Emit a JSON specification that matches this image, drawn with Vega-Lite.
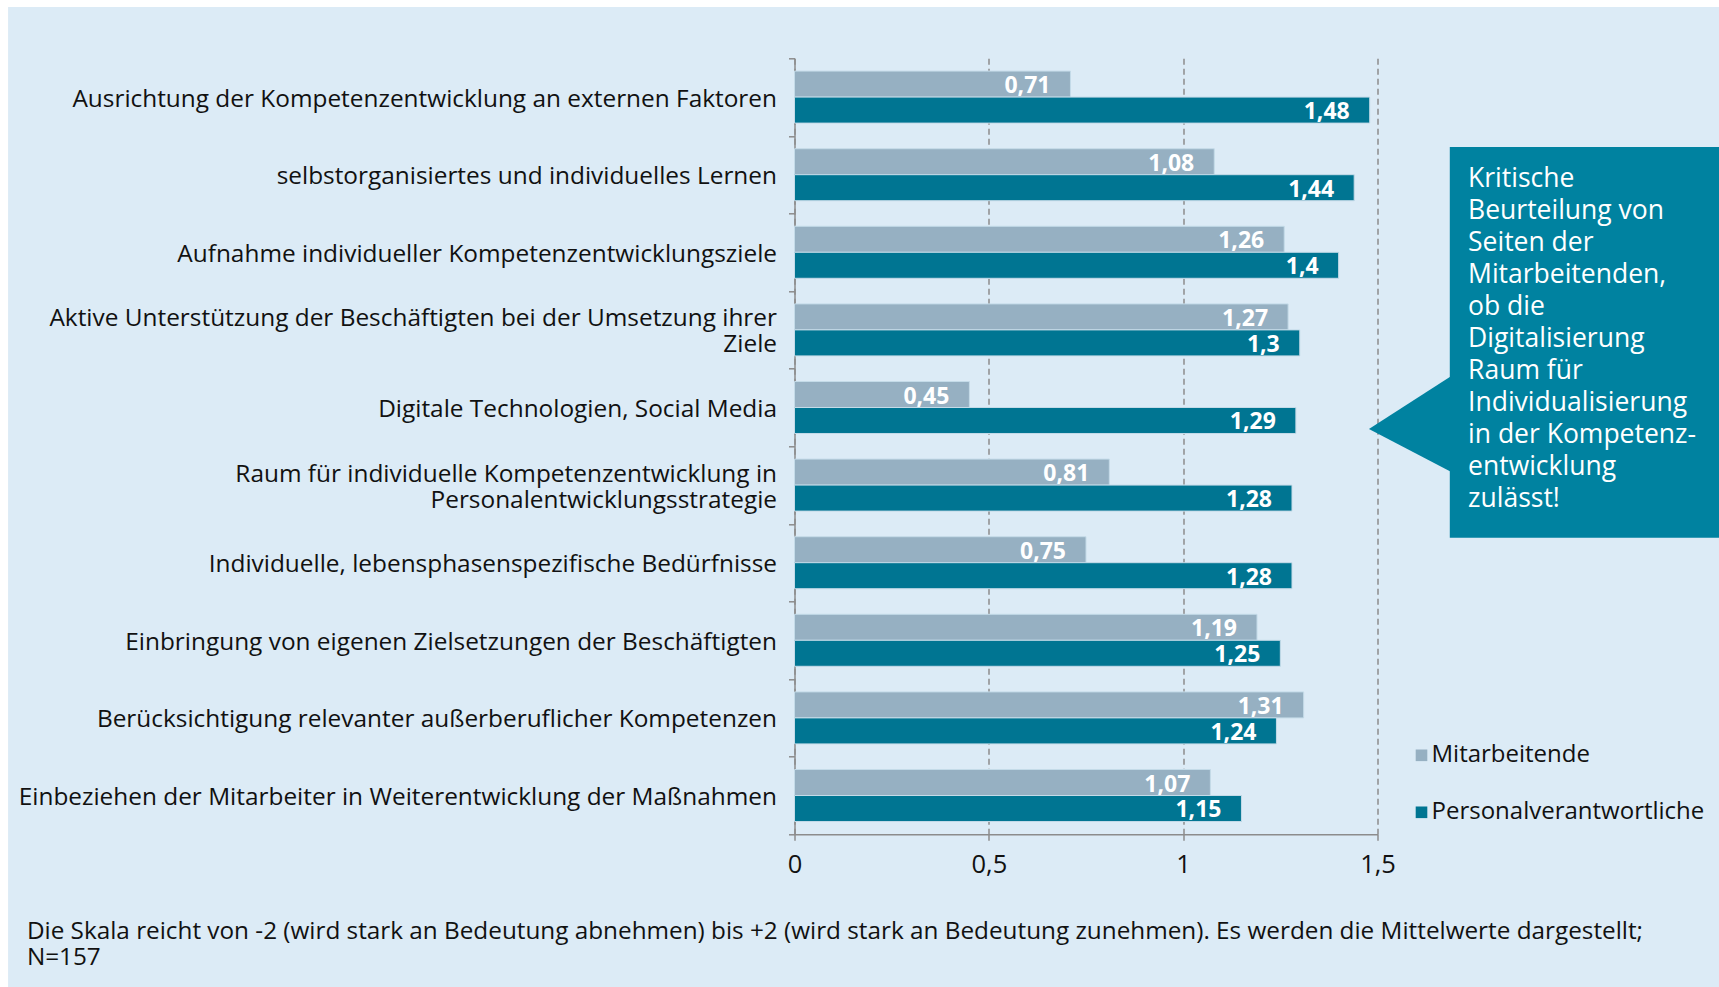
{
  "$schema": "https://vega.github.io/schema/vega-lite/v6.json",
  "width": 583,
  "height": 776,
  "autosize": "none",
  "padding": {"left": 794.5, "top": 58.3, "right": 341.5, "bottom": 152.7},
  "background": "#dcebf6",
  "config": {
    "locale": {"number": {"decimal": ",", "thousands": ".", "grouping": [3], "currency": ["", " €"]}},
    "view": {"stroke": null},
    "font": "Open Sans"
  },
  "resolve": {"scale": {"x": "independent", "y": "independent"}},
  "layer": [
    {
      "data": {
        "values": [
          {"item": "Ausrichtung der Kompetenzentwicklung an externen Faktoren", "group": "Mitarbeitende", "value": 0.71},
          {"item": "Ausrichtung der Kompetenzentwicklung an externen Faktoren", "group": "Personalverantwortliche", "value": 1.48},
          {"item": "selbstorganisiertes und individuelles Lernen", "group": "Mitarbeitende", "value": 1.08},
          {"item": "selbstorganisiertes und individuelles Lernen", "group": "Personalverantwortliche", "value": 1.44},
          {"item": "Aufnahme individueller Kompetenzentwicklungsziele", "group": "Mitarbeitende", "value": 1.26},
          {"item": "Aufnahme individueller Kompetenzentwicklungsziele", "group": "Personalverantwortliche", "value": 1.4},
          {"item": "Aktive Unterstützung der Beschäftigten bei der Umsetzung ihrer Ziele", "group": "Mitarbeitende", "value": 1.27},
          {"item": "Aktive Unterstützung der Beschäftigten bei der Umsetzung ihrer Ziele", "group": "Personalverantwortliche", "value": 1.3},
          {"item": "Digitale Technologien, Social Media", "group": "Mitarbeitende", "value": 0.45},
          {"item": "Digitale Technologien, Social Media", "group": "Personalverantwortliche", "value": 1.29},
          {"item": "Raum für individuelle Kompetenzentwicklung in Personalentwicklungsstrategie", "group": "Mitarbeitende", "value": 0.81},
          {"item": "Raum für individuelle Kompetenzentwicklung in Personalentwicklungsstrategie", "group": "Personalverantwortliche", "value": 1.28},
          {"item": "Individuelle, lebensphasenspezifische Bedürfnisse", "group": "Mitarbeitende", "value": 0.75},
          {"item": "Individuelle, lebensphasenspezifische Bedürfnisse", "group": "Personalverantwortliche", "value": 1.28},
          {"item": "Einbringung von eigenen Zielsetzungen der Beschäftigten", "group": "Mitarbeitende", "value": 1.19},
          {"item": "Einbringung von eigenen Zielsetzungen der Beschäftigten", "group": "Personalverantwortliche", "value": 1.25},
          {"item": "Berücksichtigung relevanter außerberuflicher Kompetenzen", "group": "Mitarbeitende", "value": 1.31},
          {"item": "Berücksichtigung relevanter außerberuflicher Kompetenzen", "group": "Personalverantwortliche", "value": 1.24},
          {"item": "Einbeziehen der Mitarbeiter in Weiterentwicklung der Maßnahmen", "group": "Mitarbeitende", "value": 1.07},
          {"item": "Einbeziehen der Mitarbeiter in Weiterentwicklung der Maßnahmen", "group": "Personalverantwortliche", "value": 1.15}
        ]
      },
      "encoding": {
        "y": {
          "field": "item", "type": "nominal", "sort": null, "title": null,
          "scale": {"paddingInner": 0, "paddingOuter": 0},
          "axis": {
            "labelExpr": "split(replace(replace(datum.label, 'ihrer Ziele', 'ihrer|Ziele'), 'in Personal', 'in|Personal'), '|')",
            "labelFont": "Open Sans", "labelFontSize": 24.4, "labelColor": "#111111",
            "labelLineHeight": 26, "labelPadding": 12, "labelLimit": 900,
            "labelOffset": {"condition": {"test": "indexof(datum.label, 'ihrer Ziele') >= 0 || indexof(datum.label, 'in Personal') >= 0", "value": -11}, "value": 2},
            "tickBand": "extent", "tickSize": 6, "tickColor": "#8c8c8c", "tickWidth": 1.5,
            "domainColor": "#8c8c8c", "domainWidth": 1.5, "grid": false
          }
        },
        "yOffset": {"field": "group", "type": "nominal", "scale": {"domain": ["Mitarbeitende", "Personalverantwortliche"], "paddingInner": 0, "paddingOuter": 0.4925}},
        "x": {
          "field": "value", "type": "quantitative", "title": null,
          "scale": {"domain": [0, 1.5], "nice": false, "zero": false},
          "axis": {
            "values": [0, 0.5, 1, 1.5], "format": ".1~f", "labelFlush": false,
            "labelFont": "Open Sans", "labelFontSize": 25.5, "labelColor": "#111111", "labelPadding": 12,
            "grid": true, "gridDash": [6, 4], "gridColor": "#8c8c8c", "gridWidth": 1.5,
            "domainColor": "#8c8c8c", "domainWidth": 1.5,
            "tickColor": "#8c8c8c", "tickSize": 6, "tickWidth": 1.5
          }
        }
      },
      "layer": [
        {
          "mark": {"type": "bar", "stroke": "#c4dbe8", "strokeWidth": 1},
          "encoding": {
            "color": {
              "field": "group", "type": "nominal",
              "scale": {"domain": ["Mitarbeitende", "Personalverantwortliche"], "range": ["#96b0c2", "#007592"]},
              "legend": {
                "orient": "none", "legendX": 615, "legendY": 685, "title": null,
                "symbolType": "square", "symbolSize": 135, "symbolStrokeWidth": 0,
                "labelFont": "Open Sans", "labelFontSize": 24, "labelColor": "#111111", "labelLimit": 500,
                "labelOffset": -2, "rowPadding": 33, "padding": 0
              }
            }
          }
        },
        {
          "mark": {"type": "text", "align": "right", "baseline": "middle", "dx": -20, "dy": 2, "color": "white", "font": "Open Sans", "fontWeight": "bold", "fontSize": 23},
          "encoding": {"text": {"field": "value", "type": "quantitative", "format": ".2~f"}}
        }
      ]
    },
    {
      "data": {"values": [
        {"x": -2.2, "x2": 2.6, "y": -1, "y2": -0.661},
        {"x": -2.2, "x2": -2.0234, "y": -1, "y2": 12.5}
      ]},
      "mark": {"type": "rect", "color": "white"},
      "encoding": {
        "x": {"field": "x", "type": "quantitative", "scale": {"domain": [0, 1.5], "nice": false, "zero": false}, "axis": null},
        "x2": {"field": "x2"},
        "y": {"field": "y", "type": "quantitative", "scale": {"domain": [0, 10], "reverse": true, "nice": false, "zero": false}, "axis": null},
        "y2": {"field": "y2"}
      }
    },
    {
      "data": {"values": [{"x": 1.686, "x2": 2.5, "y": 1.143, "y2": 6.18}]},
      "mark": {"type": "rect", "color": "#0082a0"},
      "encoding": {
        "x": {"field": "x", "type": "quantitative", "scale": {"domain": [0, 1.5], "nice": false, "zero": false}, "axis": null},
        "x2": {"field": "x2"},
        "y": {"field": "y", "type": "quantitative", "scale": {"domain": [0, 10], "reverse": true, "nice": false, "zero": false}, "axis": null},
        "y2": {"field": "y2"}
      }
    },
    {
      "data": {"values": [{"x": 1.478, "y": 4.777, "y2": 4.777}, {"x": 1.69, "y": 4.094, "y2": 5.33}]},
      "mark": {"type": "area", "color": "#0082a0", "opacity": 1},
      "encoding": {
        "x": {"field": "x", "type": "quantitative", "scale": {"domain": [0, 1.5], "nice": false, "zero": false}, "axis": null},
        "y": {"field": "y", "type": "quantitative", "scale": {"domain": [0, 10], "reverse": true, "nice": false, "zero": false}, "axis": null},
        "y2": {"field": "y2"}
      }
    },
    {
      "data": {"values": [{"x": 1.733, "y": 1.662, "t": "Kritische\nBeurteilung von\nSeiten der\nMitarbeitenden,\nob die\nDigitalisierung\nRaum für\nIndividualisierung\nin der Kompetenz-\nentwicklung\nzulässt!"}]},
      "mark": {"type": "text", "align": "left", "baseline": "alphabetic", "lineBreak": "\n", "lineHeight": 32, "font": "Open Sans", "fontSize": 26.5, "color": "white"},
      "encoding": {
        "x": {"field": "x", "type": "quantitative", "scale": {"domain": [0, 1.5], "nice": false, "zero": false}, "axis": null},
        "y": {"field": "y", "type": "quantitative", "scale": {"domain": [0, 10], "reverse": true, "nice": false, "zero": false}, "axis": null},
        "text": {"field": "t"}
      }
    },
    {
      "data": {"values": [{"x": -1.975, "y": 11.35, "t": "Die Skala reicht von -2 (wird stark an Bedeutung abnehmen) bis +2 (wird stark an Bedeutung zunehmen). Es werden die Mittelwerte dargestellt;\nN=157"}]},
      "mark": {"type": "text", "align": "left", "baseline": "alphabetic", "lineBreak": "\n", "lineHeight": 26, "font": "Open Sans", "fontSize": 24.3, "color": "#111111"},
      "encoding": {
        "x": {"field": "x", "type": "quantitative", "scale": {"domain": [0, 1.5], "nice": false, "zero": false}, "axis": null},
        "y": {"field": "y", "type": "quantitative", "scale": {"domain": [0, 10], "reverse": true, "nice": false, "zero": false}, "axis": null},
        "text": {"field": "t"}
      }
    }
  ]
}
